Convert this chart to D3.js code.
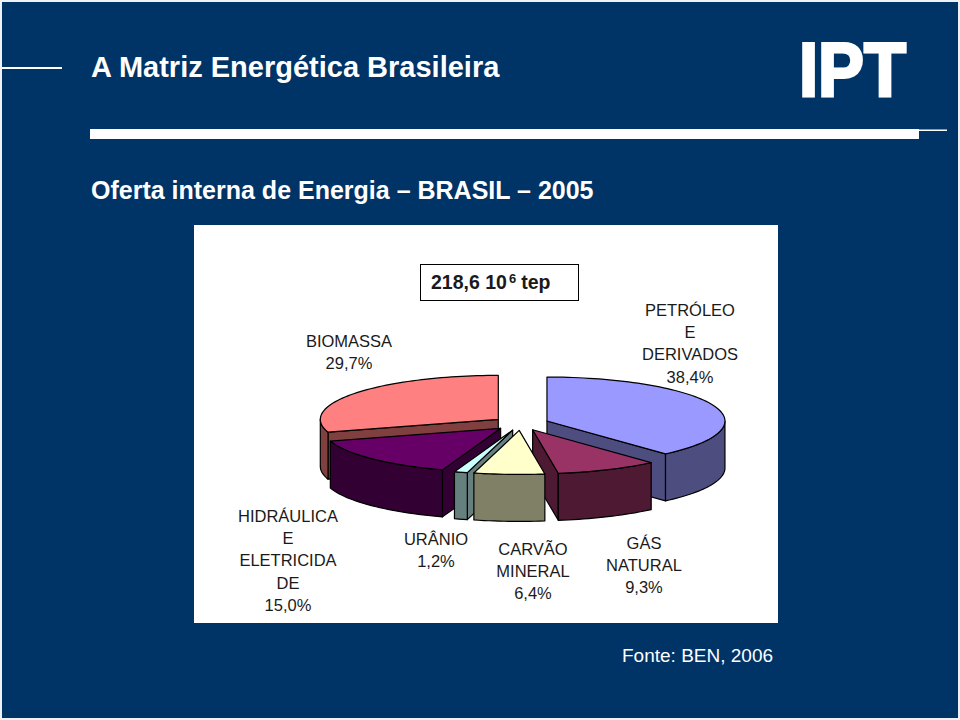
<!DOCTYPE html>
<html><head><meta charset="utf-8">
<script src="https://cdn.jsdelivr.net/npm/d3@7"></script>
<style>html,body{margin:0;padding:0;background:#fff}svg{display:block}text{font-family:"Liberation Sans",Arial,sans-serif}</style>
</head><body><svg id="c" width="960" height="720"></svg>
<script>
const categories=["PETRÓLEO E DERIVADOS","GÁS NATURAL","CARVÃO MINERAL","URÂNIO","HIDRÁULICA E ELETRICIDADE","BIOMASSA"];
const values=[38.4,9.3,6.4,1.2,15.0,29.7];
const valueLabels=["38,4%","9,3%","6,4%","1,2%","15,0%","29,7%"];
const labelLines=[["PETRÓLEO","E","DERIVADOS"],["GÁS","NATURAL"],["CARVÃO","MINERAL"],["URÂNIO"],["HIDRÁULICA","E","ELETRICIDA","DE"],["BIOMASSA"]];
const labelCenterX=[690,644,533,436,288,349];
const labelTopY=[316,549,555,545,522,347];
const topColors=["#9999ff","#993366","#ffffcc","#ccffff","#660066","#ff8080"];
const sideColors=["#4d4d80","#4d1933","#808066","#668080","#330033","#804040"];
const drawOrder=[5,0,4,1,3,2];

const svg=d3.select("#c");
svg.append("rect").attr("width",960).attr("height",720).attr("fill","#eef1f5");
svg.append("rect").attr("x",2).attr("y",2).attr("width",956).attr("height",716).attr("fill","#003366");
svg.append("rect").attr("x",2).attr("y",67).attr("width",60).attr("height",2).attr("fill","#fff");
svg.append("rect").attr("x",90).attr("y",129).attr("width",829).attr("height",10).attr("fill","#fff");
svg.append("rect").attr("x",919).attr("y",129.5).attr("width",28).attr("height",1.5).attr("fill","#fff");
svg.append("text").attr("x",91).attr("y",77).attr("font-size",29).attr("font-weight",700).attr("fill","#fff").text("A Matriz Energética Brasileira");
svg.append("text").attr("x",91).attr("y",199).attr("font-size",25).attr("font-weight",700).attr("fill","#fff").text("Oferta interna de Energia – BRASIL – 2005");
svg.append("text").attr("x",799).attr("y",96).attr("font-size",76).attr("font-weight",700).attr("fill","#fff").attr("stroke","#fff").attr("stroke-width",3)
  .attr("textLength",107).attr("lengthAdjust","spacingAndGlyphs").text("IPT");
svg.append("rect").attr("x",194).attr("y",225).attr("width",584).attr("height",398).attr("fill","#fff");
svg.append("text").attr("x",622).attr("y",662).attr("font-size",19).attr("fill","#fff").text("Fonte: BEN, 2006");

// title box
svg.append("rect").attr("x",420.5).attr("y",264.5).attr("width",158).attr("height",36).attr("fill","#fff").attr("stroke","#000").attr("stroke-width",1);
const tb=svg.append("text").attr("x",431).attr("y",289).attr("font-size",19.5).attr("font-weight",700).attr("fill","#1a1a1a");
tb.append("tspan").text("218,6 10");
tb.append("tspan").attr("dy",-6).attr("dx",2).attr("font-size",13).text("6");
tb.append("tspan").attr("dy",6).attr("dx",5).text("tep");

// pie
const cx=520.8,cy=423.5,rx=178,ry=44,depth=47,explode=28;
const sx=d3.scaleLinear().domain([-1,1]).range([cx-rx,cx+rx]);
const sy=d3.scaleLinear().domain([-1,1]).range([cy-ry,cy+ry]);
const pie=d3.pie().sort(null).value(d=>d)(values);
const H=Math.PI/2;
function pt(a,r,ox,oy,dz){return [sx(r*Math.sin(a)+ox),sy(-r*Math.cos(a)+oy)+(dz||0)];}
function arcPts(a0,a1,ox,oy,dz){
  const n=Math.max(2,Math.ceil((a1-a0)/0.03)),s=[];
  for(let i=0;i<=n;i++)s.push(pt(a0+(a1-a0)*i/n,1,ox,oy,dz));
  return s;
}
const line=d3.line();
const chart=svg.append("g").attr("stroke","#000").attr("stroke-width",1.2).attr("stroke-linejoin","round");
drawOrder.forEach(i=>{
  const p=pie[i],mid=(p.startAngle+p.endAngle)/2,e=explode/rx;
  const ox=e*Math.sin(mid),oy=-e*Math.cos(mid);
  const apex=pt(0,0,ox,oy);
  const g=chart.append("g");
  const face=a=>{const o=pt(a,1,ox,oy);
    g.append("path").attr("fill",sideColors[i]).attr("d",line([apex,o,[o[0],o[1]+depth],[apex[0],apex[1]+depth]])+"Z");};
  if(Math.sin(p.startAngle)<-1e-6)face(p.startAngle);
  if(Math.sin(p.endAngle)>1e-6)face(p.endAngle);
  const w0=Math.max(p.startAngle,H),w1=Math.min(p.endAngle,3*H);
  if(w1>w0){
    const t=arcPts(w0,w1,ox,oy,0),b=arcPts(w0,w1,ox,oy,depth).reverse();
    g.append("path").attr("fill",sideColors[i]).attr("d",line(t.concat(b))+"Z");
  }
  g.append("path").attr("fill",topColors[i]).attr("d",line([apex].concat(arcPts(p.startAngle,p.endAngle,ox,oy,0)))+"Z");
});

// labels
const lab=svg.append("g").attr("font-size",16.5).attr("fill","#1a1a1a").attr("text-anchor","middle");
categories.forEach((c,i)=>{
  const lines=labelLines[i].concat([valueLabels[i]]);
  lines.forEach((t,k)=>lab.append("text").attr("x",labelCenterX[i]).attr("y",labelTopY[i]+k*22.2).text(t));
});
</script></body></html>
